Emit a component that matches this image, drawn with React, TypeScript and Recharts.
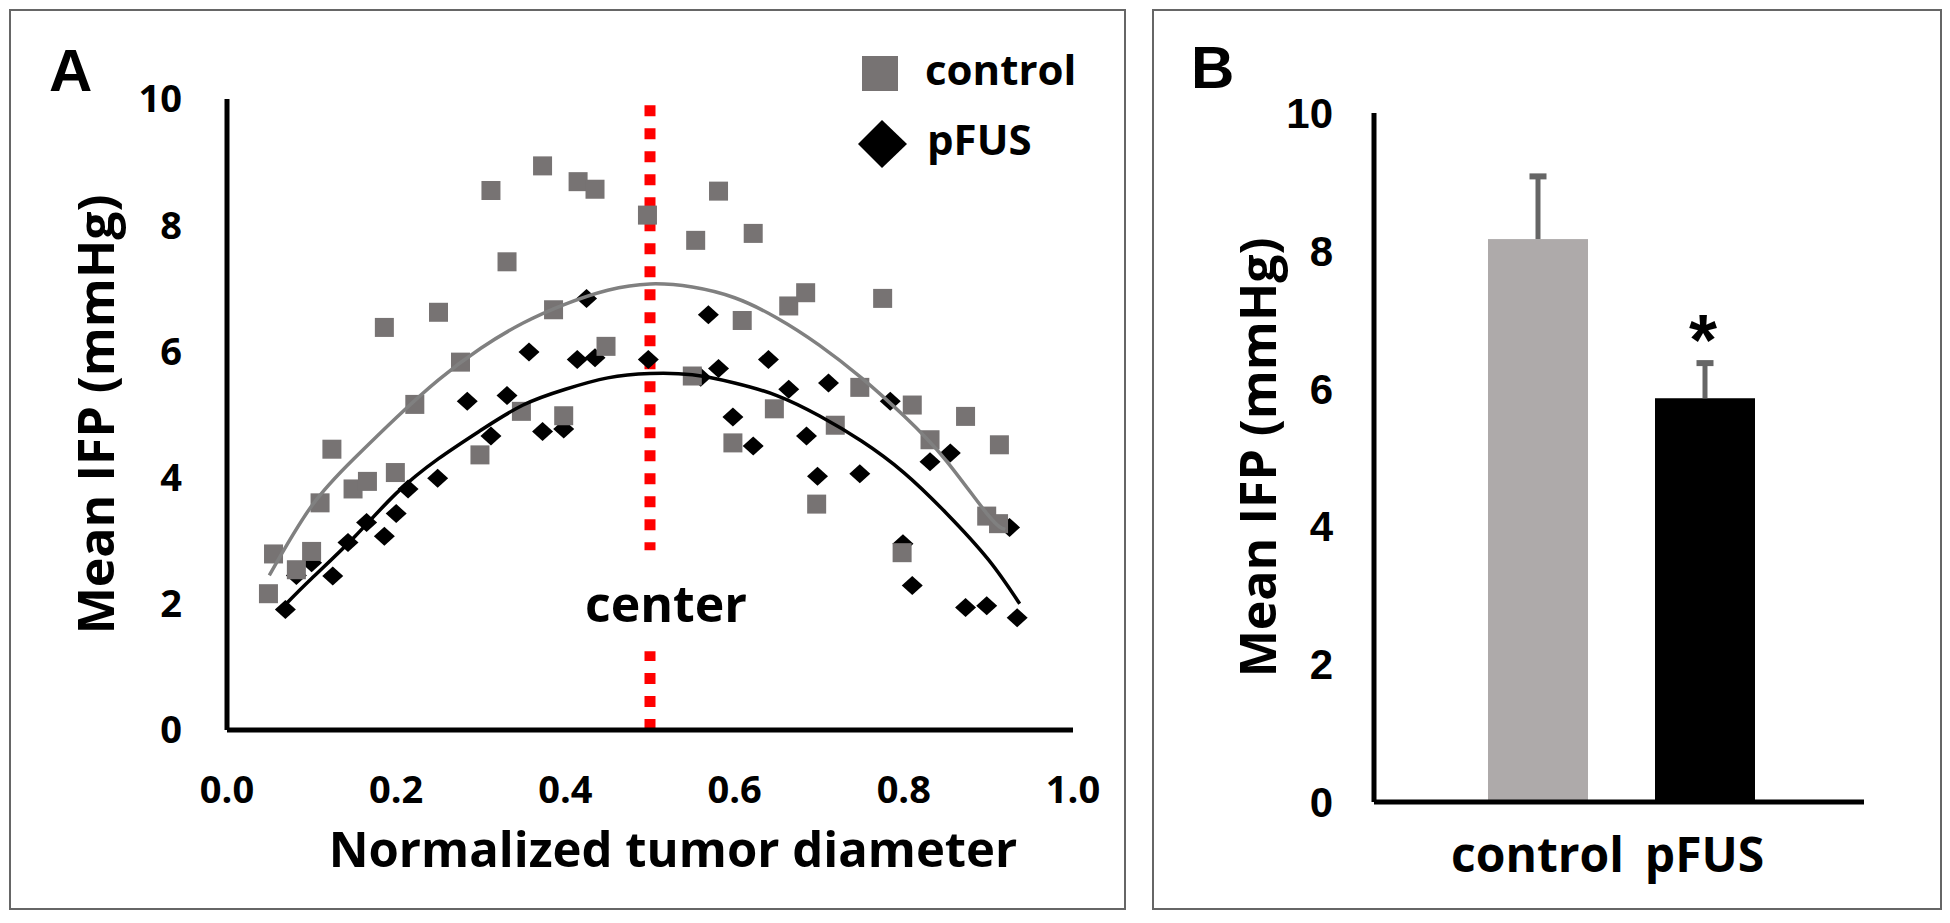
import React from "react";
import {
  ScatterChart,
  Scatter,
  XAxis,
  YAxis,
  ReferenceLine,
  ReferenceDot,
  Legend,
  BarChart,
  Bar,
  Cell,
} from "recharts";

// ---- panel A data ----
const CONTROL_X = [0.049, 0.055, 0.082, 0.1, 0.11, 0.124, 0.149, 0.166, 0.186, 0.199, 0.222, 0.25, 0.276, 0.299, 0.312, 0.331, 0.348, 0.373, 0.386, 0.398, 0.415, 0.435, 0.448, 0.497, 0.55, 0.554, 0.581, 0.598, 0.609, 0.622, 0.647, 0.664, 0.684, 0.697, 0.719, 0.748, 0.775, 0.798, 0.81, 0.831, 0.873, 0.898, 0.912, 0.913];
const CONTROL_Y = [2.16, 2.79, 2.54, 2.83, 3.6, 4.45, 3.82, 3.94, 6.38, 4.08, 5.16, 6.62, 5.83, 4.36, 8.55, 7.42, 5.05, 8.94, 6.66, 4.98, 8.69, 8.57, 6.08, 8.16, 5.61, 7.76, 8.54, 4.55, 6.49, 7.87, 5.09, 6.72, 6.93, 3.58, 4.83, 5.43, 6.84, 2.81, 5.15, 4.6, 4.97, 3.39, 3.27, 4.52];

const PFUS_X = [0.069, 0.082, 0.1, 0.125, 0.143, 0.165, 0.186, 0.2, 0.214, 0.249, 0.284, 0.312, 0.331, 0.357, 0.373, 0.398, 0.414, 0.425, 0.435, 0.498, 0.56, 0.569, 0.581, 0.598, 0.622, 0.64, 0.664, 0.685, 0.698, 0.711, 0.748, 0.784, 0.799, 0.81, 0.831, 0.855, 0.873, 0.898, 0.925, 0.934];
const PFUS_Y = [1.91, 2.45, 2.65, 2.44, 2.97, 3.29, 3.07, 3.43, 3.82, 3.99, 5.21, 4.66, 5.3, 5.99, 4.73, 4.77, 5.87, 6.84, 5.9, 5.87, 5.59, 6.58, 5.73, 4.96, 4.5, 5.87, 5.4, 4.66, 4.02, 5.5, 4.06, 5.21, 2.95, 2.29, 4.25, 4.39, 1.94, 1.97, 3.21, 1.78];

// trendlines
const CONTROL_FIT_X = [0.05, 0.1, 0.15, 0.2, 0.25, 0.3, 0.35, 0.4, 0.45, 0.5, 0.55, 0.6, 0.65, 0.7, 0.75, 0.8, 0.85, 0.9, 0.92];
const CONTROL_FIT_Y = [2.45, 3.55, 4.3, 4.95, 5.55, 6.05, 6.45, 6.75, 6.97, 7.07, 7.02, 6.85, 6.53, 6.1, 5.58, 4.98, 4.27, 3.4, 3.18];
const PFUS_FIT_X = [0.07, 0.1, 0.15, 0.2, 0.25, 0.3, 0.35, 0.4, 0.45, 0.5, 0.55, 0.6, 0.65, 0.7, 0.75, 0.8, 0.85, 0.9, 0.937];
const PFUS_FIT_Y = [2.0, 2.4, 3.05, 3.75, 4.3, 4.75, 5.15, 5.4, 5.58, 5.65, 5.63, 5.5, 5.3, 4.98, 4.58, 4.08, 3.44, 2.7, 2.0];

const X_TICKS = [0, 0.2, 0.4, 0.6, 0.8, 1.0];
const Y_TICKS = [0, 2, 4, 6, 8, 10];
const CENTER_X = 0.5;

// ---- panel B data ----
const GROUPS = ["control", "pFUS"];
const MEANS = [8.17, 5.86];
const ERRORS = [0.91, 0.51];
const SIGNIFICANT = [false, true];
const BAR_COLORS = ["#aeaaaa", "#000000"];

const LEGEND_ITEMS = ["control", "pFUS"];

const toPoints = (xs: number[], ys: number[]) => xs.map((x, i) => ({ x, y: ys[i] }));

const controlData = toPoints(CONTROL_X, CONTROL_Y);
const pfusData = toPoints(PFUS_X, PFUS_Y);
const controlFit = toPoints(CONTROL_FIT_X, CONTROL_FIT_Y);
const pfusFit = toPoints(PFUS_FIT_X, PFUS_FIT_Y);
const barData = GROUPS.map((name, i) => ({ name, mean: MEANS[i], err: ERRORS[i], sig: SIGNIFICANT[i] }));

const CALIBRI = "'Open Sans', 'Lato', sans-serif";
const ARIAL = "'Liberation Sans', Arial, sans-serif";
const GREY = "#777373";

const SquareDot = ({ cx, cy }: any) => (
  <rect x={cx - 9.5} y={cy - 9.5} width={19} height={19} fill={GREY} />
);

const DiamondDot = ({ cx, cy }: any) => (
  <polygon points={`${cx - 10.5},${cy} ${cx},${cy - 9.5} ${cx + 10.5},${cy} ${cx},${cy + 9.5}`} fill="#000" />
);

const NoDot = () => <g />;

const renderLegend = () => (
  <svg width={260} height={140}>
    <rect x={12} y={16} width={36} height={35} fill={GREY} />
    <text x={75} y={45} fontFamily={CALIBRI} fontWeight={700} fontSize={42} fill="#000">
      {LEGEND_ITEMS[0]}
    </text>
    <polygon points="8,104 32,80 57,104 32,128" fill="#000" />
    <text x={77} y={115} fontFamily={CALIBRI} fontWeight={700} fontSize={42} fill="#000">
      {LEGEND_ITEMS[1]}
    </text>
  </svg>
);

const YTitle = ({ viewBox, shift }: any) => {
  const cx = viewBox.x + shift;
  const cy = viewBox.y + viewBox.height / 2;
  return (
    <text
      x={cx}
      y={cy}
      transform={`rotate(-90, ${cx}, ${cy})`}
      textAnchor="middle"
      dy={18}
      fontFamily={CALIBRI}
      fontWeight={700}
      fontSize={50}
      fill="#000"
    >
      Mean IFP (mmHg)
    </text>
  );
};

const XTitle = ({ viewBox }: any) => (
  <text
    x={viewBox.x + viewBox.width / 2 + 23}
    y={867 - 10}
    textAnchor="middle"
    fontFamily={CALIBRI}
    fontWeight={700}
    fontSize={49}
    fill="#000"
  >
    Normalized tumor diameter
  </text>
);

const CenterText = ({ viewBox }: any) => (
  <text
    x={viewBox.x + 16}
    y={viewBox.y}
    textAnchor="middle"
    fontFamily={CALIBRI}
    fontWeight={700}
    fontSize={50}
    fill="#000"
  >
    center
  </text>
);

// bar with a plus-only error bar and the significance star
const BarWithError = (props: any) => {
  const { x, y, width, height, fill, payload } = props;
  const pxPerUnit = height / payload.mean;
  const top = y - payload.err * pxPerUnit;
  const cx = x + width / 2;
  return (
    <g>
      <rect x={x} y={y} width={width} height={height} fill={fill} />
      <line x1={cx} x2={cx} y1={y} y2={top} stroke="#666" strokeWidth={5} />
      <line x1={cx - 8.5} x2={cx + 8.5} y1={top} y2={top} stroke="#666" strokeWidth={6} />
      {payload.sig && (
        <text x={cx - 2} y={top + 2} textAnchor="middle" fontFamily={ARIAL} fontWeight={700} fontSize={72} fill="#000">
          *
        </text>
      )}
    </g>
  );
};

const tickA = { fontFamily: CALIBRI, fontWeight: 700, fontSize: 38, fill: "#000" };
const tickB = { fontFamily: ARIAL, fontWeight: 700, fontSize: 42, fill: "#000" };
const frame = { position: "absolute" as const, border: "2px solid #666", boxSizing: "border-box" as const };
const panelLetter = { position: "absolute" as const, fontFamily: ARIAL, fontWeight: 700, fontSize: 60, lineHeight: "60px", margin: 0 };

export default function App() {
  return (
    <div style={{ position: "absolute", left: 0, top: 0, width: 1950, height: 923, background: "#fff" }}>
      <div style={{ ...frame, left: 9, top: 9, width: 1117, height: 901 }} />
      <div style={{ ...frame, left: 1152, top: 9, width: 790, height: 901 }} />
      <div style={{ ...panelLetter, left: 49, top: 41 }}>A</div>
      <div style={{ ...panelLetter, left: 1191, top: 38 }}>B</div>

      <div style={{ position: "absolute", left: 10, top: 10 }}>
        <ScatterChart width={1115} height={899} margin={{ top: 89, right: 52, bottom: 0, left: 0 }}>
          <XAxis
            type="number"
            dataKey="x"
            domain={[0, 1]}
            ticks={X_TICKS}
            tickFormatter={(v: number) => v.toFixed(1)}
            height={179}
            tickSize={0}
            tickMargin={46}
            tickLine={false}
            axisLine={{ stroke: "#000", strokeWidth: 5 }}
            tick={tickA}
            label={{ content: <XTitle /> }}
          />
          <YAxis
            type="number"
            dataKey="y"
            domain={[0, 10]}
            ticks={Y_TICKS}
            width={217}
            tickSize={0}
            tickMargin={45}
            tickLine={false}
            axisLine={{ stroke: "#000", strokeWidth: 5 }}
            tick={tickA}
            label={{ content: <YTitle shift={86} /> }}
          />
          <Legend
            layout="vertical"
            align="center"
            verticalAlign="middle"
            wrapperStyle={{ left: 840, top: 30, width: 260, height: 140 }}
            content={renderLegend}
          />
          <Scatter name="pFUS" data={pfusData} shape={<DiamondDot />} isAnimationActive={false} legendType="none" />
          <Scatter name="control" data={controlData} shape={<SquareDot />} isAnimationActive={false} legendType="none" />
          <Scatter
            data={controlFit}
            shape={<NoDot />}
            line={{ stroke: "#808080", strokeWidth: 3.5 }}
            lineJointType="natural"
            isAnimationActive={false}
            legendType="none"
          />
          <Scatter
            data={pfusFit}
            shape={<NoDot />}
            line={{ stroke: "#000", strokeWidth: 3.5 }}
            lineJointType="natural"
            isAnimationActive={false}
            legendType="none"
          />
          <ReferenceLine
            segment={[{ x: CENTER_X, y: 9.9 }, { x: CENTER_X, y: 2.85 }]}
            stroke="#ff0000"
            strokeWidth={11}
            strokeDasharray="11 12"
          />
          <ReferenceLine
            segment={[{ x: CENTER_X, y: 0 }, { x: CENTER_X, y: 1.25 }]}
            stroke="#ff0000"
            strokeWidth={11}
            strokeDasharray="11 12"
          />
          <ReferenceDot x={CENTER_X} y={1.71} r={0} fill="none" stroke="none" label={{ content: <CenterText /> }} />
        </ScatterChart>
      </div>

      <div style={{ position: "absolute", left: 1153, top: 10 }}>
        <BarChart width={788} height={899} data={barData} margin={{ top: 103, right: 77, bottom: 0, left: 0 }}>
          <XAxis
            dataKey="name"
            height={107}
            padding={{ left: 80, right: 76 }}
            tickSize={0}
            tickMargin={36}
            tickLine={false}
            axisLine={{ stroke: "#000", strokeWidth: 5 }}
            tick={{ fontFamily: CALIBRI, fontWeight: 700, fontSize: 48, fill: "#000" }}
            interval={0}
          />
          <YAxis
            type="number"
            domain={[0, 10]}
            ticks={Y_TICKS}
            width={221}
            tickSize={0}
            tickMargin={41}
            tickLine={false}
            axisLine={{ stroke: "#000", strokeWidth: 5 }}
            tick={tickB}
            label={{ content: <YTitle shift={105} /> }}
          />
          <Bar dataKey="mean" barSize={100} shape={<BarWithError />} isAnimationActive={false}>
            {barData.map((d, i) => (
              <Cell key={d.name} fill={BAR_COLORS[i]} />
            ))}
          </Bar>
        </BarChart>
      </div>
    </div>
  );
}
